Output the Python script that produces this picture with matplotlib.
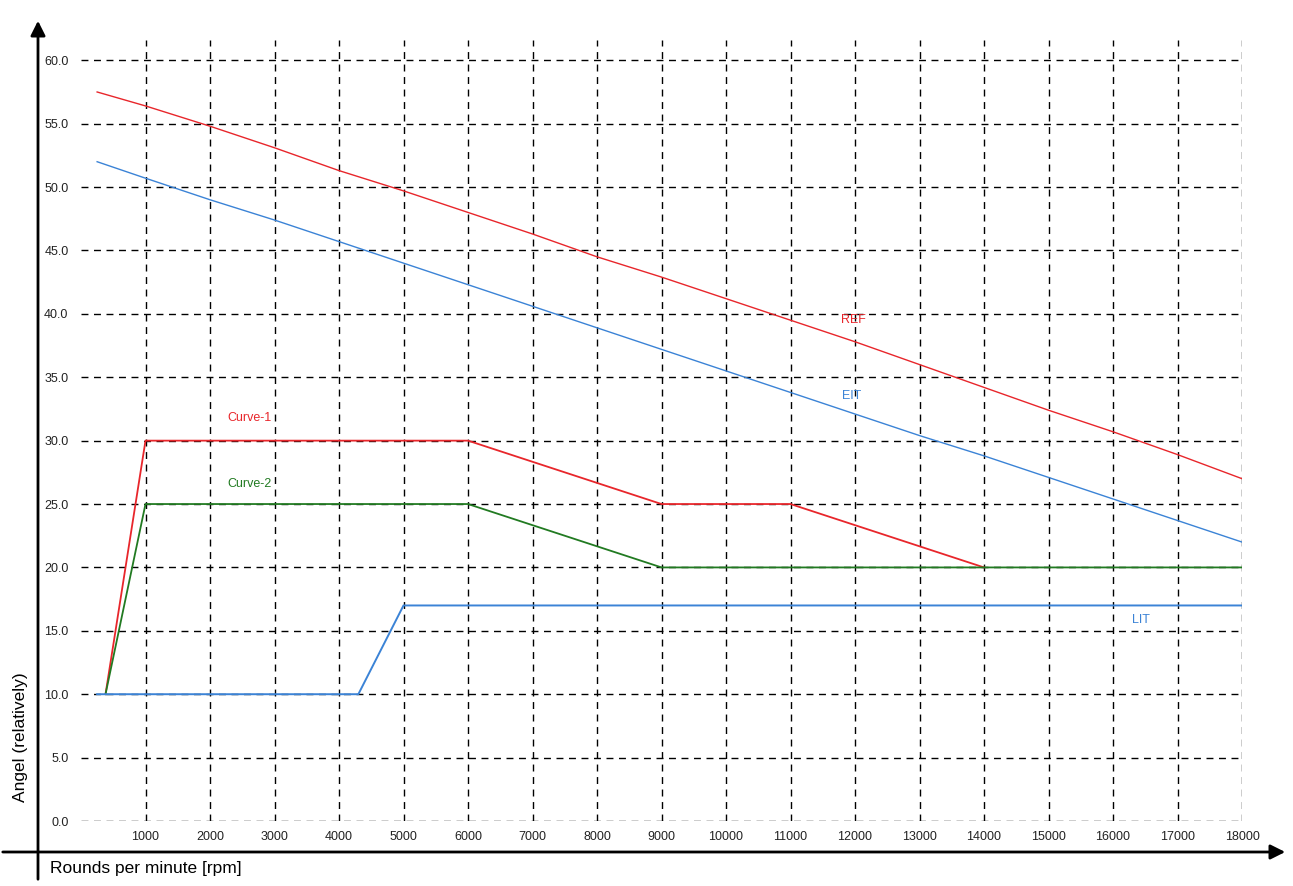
import matplotlib
matplotlib.use("Agg")
import matplotlib.pyplot as plt
from matplotlib.patches import FancyArrowPatch

plt.rcParams['font.family'] = ['Liberation Sans', 'DejaVu Sans']

# ---- data ----
rpm_grid = [250, 1000, 2000, 3000, 4000, 5000, 6000, 7000, 8000, 9000,
            10000, 11000, 12000, 13000, 14000, 15000, 16000, 17000, 18000]
ref_vals = [57.5, 56.4, 54.8, 53.1, 51.3, 49.7, 48.0, 46.3, 44.5, 42.9,
            41.2, 39.5, 37.8, 36.0, 34.2, 32.4, 30.7, 28.9, 27.0]
eit_vals = [52.0, 50.7, 49.0, 47.4, 45.7, 44.0, 42.3, 40.6, 38.9, 37.2,
            35.5, 33.8, 32.1, 30.4, 28.8, 27.1, 25.4, 23.7, 22.0]

curve1_x = [380, 1000, 6000, 9000, 11000, 14000]
curve1_y = [10.0, 30.0, 30.0, 25.0, 25.0, 20.0]

curve2_x = [380, 1000, 6000, 9000, 18000]
curve2_y = [10.0, 25.0, 25.0, 20.0, 20.0]

lit_x = [250, 4300, 5000, 18000]
lit_y = [10.0, 10.0, 17.0, 17.0]

x_ticks = list(range(1000, 18001, 1000))
y_ticks = [i * 5.0 for i in range(13)]

RED = '#e8262b'
BLUE = '#3b83d6'
GREEN = '#217a21'

fig = plt.figure(figsize=(12.93, 8.86), dpi=100)
ax = fig.add_axes([81 / 1293, 65 / 886, (1242 - 81) / 1293, (821 - 40) / 886])

# dashed grid first, curves on top
for t in x_ticks:
    ax.axvline(t, color='black', lw=1.0, ls=(0, (5, 4)), zorder=1)
for t in y_ticks:
    ax.axhline(t, color='black', lw=1.0, ls=(0, (5, 4)), zorder=1)

ax.plot(rpm_grid, ref_vals, color=RED, lw=1.0, zorder=3)
ax.plot(rpm_grid, eit_vals, color=BLUE, lw=1.0, zorder=3)
ax.plot(curve1_x, curve1_y, color=RED, lw=1.3, zorder=3)
ax.plot(curve2_x, curve2_y, color=GREEN, lw=1.3, zorder=3)
ax.plot(lit_x, lit_y, color=BLUE, lw=1.4, zorder=3)

ax.text(11970, 39.5, 'REF', color=RED, fontsize=9, ha='center', va='center')
ax.text(11940, 33.5, 'EIT', color=BLUE, fontsize=9, ha='center', va='center')
ax.text(2620, 31.8, 'Curve-1', color=RED, fontsize=9, ha='center', va='center')
ax.text(2620, 26.6, 'Curve-2', color=GREEN, fontsize=9, ha='center', va='center')
ax.text(16430, 15.85, 'LIT', color=BLUE, fontsize=9, ha='center', va='center')

ax.set_xlim(0, 18000)
ax.set_ylim(0, 61.6)
ax.set_xticks(x_ticks)
ax.set_xticklabels([str(t) for t in x_ticks])
ax.set_yticks(y_ticks)
ax.set_yticklabels(['%.1f' % t for t in y_ticks])
ax.tick_params(length=0, labelsize=9, labelcolor='#222222')
ax.tick_params(axis='y', pad=9)
ax.tick_params(axis='x', pad=7)
for s in ax.spines.values():
    s.set_visible(False)
ax.set_facecolor('none')

# axis arrows in figure coordinates
fig.add_artist(FancyArrowPatch((38 / 1293, 4 / 886), (38 / 1293, 868 / 886),
                               transform=fig.transFigure, arrowstyle='-|>',
                               mutation_scale=22, lw=2, color='black'))
fig.add_artist(FancyArrowPatch((0, 34 / 886), (1288 / 1293, 34 / 886),
                               transform=fig.transFigure, arrowstyle='-|>',
                               mutation_scale=22, lw=2, color='black'))

fig.text(21 / 1293, 1 - 737 / 886, 'Angel (relatively)', rotation=90,
         ha='center', va='center', fontsize=12.5)
fig.text(50 / 1293, 1 - 869 / 886, 'Rounds per minute [rpm]',
         ha='left', va='center', fontsize=12.5)

fig.savefig('out.png', dpi=100)
